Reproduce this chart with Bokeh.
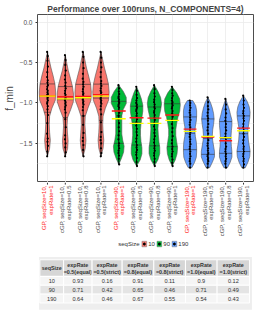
import numpy as np
from bokeh.plotting import figure
from bokeh.models import Range1d, FixedTicker, CustomJSTickFormatter
from bokeh.layouts import column
from bokeh.embed import file_html
from bokeh.resources import INLINE
from bokeh.core.properties import value

# ---------------- data ----------------
method = ["GP", "cGP", "cGP", "cGP", "GP", "cGP", "cGP", "cGP", "GP", "cGP", "cGP", "cGP"]
seq_size = [10, 10, 10, 10, 90, 90, 90, 90, 190, 190, 190, 190]
exp_rate = ["1", "0.5", "0.8", "1", "1", "0.5", "0.8", "1", "1", "0.5", "0.8", "1"]

pts_1 = [-0.37, -0.42, -0.48, -0.55, -0.62, -0.68, -0.72, -0.75, -0.78, -0.80, -0.83, -0.85, -0.87, -0.89, -0.90,
         -0.92, -0.93, -0.95, -0.97, -0.99, -1.01, -1.04, -1.08, -1.15, -1.25, -1.38, -1.44, -1.48, -1.53, -1.60, -1.66]
pts_2 = [-0.41, -0.47, -0.53, -0.60, -0.66, -0.71, -0.75, -0.79, -0.82, -0.85, -0.88, -0.90, -0.92, -0.94, -0.95,
         -0.97, -0.99, -1.01, -1.03, -1.05, -1.08, -1.12, -1.20, -1.30, -1.40, -1.45, -1.50, -1.55, -1.61, -1.66]
pts_3 = [-0.37, -0.43, -0.50, -0.57, -0.64, -0.70, -0.74, -0.77, -0.80, -0.83, -0.86, -0.88, -0.90, -0.92, -0.94,
         -0.96, -0.98, -1.00, -1.02, -1.05, -1.09, -1.16, -1.27, -1.37, -1.43, -1.47, -1.52, -1.58, -1.66]
pts_4 = [-0.37, -0.44, -0.50, -0.56, -0.62, -0.68, -0.73, -0.76, -0.79, -0.82, -0.85, -0.87, -0.89, -0.91, -0.93,
         -0.95, -0.97, -0.99, -1.01, -1.04, -1.08, -1.14, -1.24, -1.36, -1.42, -1.46, -1.50, -1.56, -1.62, -1.66]
pts_5 = [-0.78, -0.82, -0.86, -0.89, -0.92, -0.94, -0.96, -0.98, -1.00, -1.02, -1.04, -1.06, -1.09, -1.12, -1.16,
         -1.20, -1.25, -1.30, -1.35, -1.40, -1.45, -1.50, -1.53, -1.56, -1.59, -1.62, -1.65, -1.69, -1.76]
pts_6 = [-0.80, -0.85, -0.90, -0.94, -0.97, -1.00, -1.02, -1.04, -1.06, -1.08, -1.10, -1.13, -1.16, -1.20, -1.24,
         -1.28, -1.32, -1.36, -1.40, -1.44, -1.48, -1.52, -1.55, -1.58, -1.61, -1.64, -1.68, -1.73, -1.78]
pts_7 = [-0.78, -0.83, -0.88, -0.92, -0.96, -0.99, -1.02, -1.05, -1.07, -1.10, -1.12, -1.15, -1.18, -1.21, -1.25,
         -1.29, -1.33, -1.37, -1.41, -1.45, -1.49, -1.53, -1.56, -1.59, -1.62, -1.65, -1.69, -1.73, -1.78]
pts_8 = [-0.80, -0.84, -0.88, -0.91, -0.94, -0.97, -0.99, -1.01, -1.03, -1.05, -1.07, -1.10, -1.13, -1.17, -1.21,
         -1.26, -1.31, -1.36, -1.41, -1.46, -1.50, -1.54, -1.57, -1.60, -1.63, -1.66, -1.70, -1.74, -1.78]
pts_9 = [-0.97, -1.00, -1.03, -1.06, -1.09, -1.12, -1.15, -1.18, -1.21, -1.24, -1.27, -1.30, -1.33, -1.36, -1.39,
         -1.42, -1.45, -1.48, -1.51, -1.54, -1.57, -1.60, -1.63, -1.66, -1.69, -1.72, -1.75, -1.80]
pts_10 = [-0.93, -0.99, -1.04, -1.08, -1.12, -1.16, -1.19, -1.22, -1.26, -1.30, -1.34, -1.38, -1.42, -1.46, -1.50,
          -1.53, -1.56, -1.59, -1.62, -1.64, -1.66, -1.68, -1.70, -1.72, -1.75, -1.80]
pts_11 = [-0.95, -1.02, -1.08, -1.13, -1.18, -1.22, -1.26, -1.30, -1.34, -1.38, -1.42, -1.46, -1.50, -1.54, -1.57,
          -1.60, -1.63, -1.66, -1.69, -1.72, -1.75, -1.80]
pts_12 = [-0.91, -0.97, -1.02, -1.06, -1.10, -1.13, -1.16, -1.19, -1.22, -1.26, -1.30, -1.34, -1.38, -1.42, -1.46,
          -1.50, -1.54, -1.57, -1.60, -1.63, -1.66, -1.69, -1.72, -1.76, -1.80]
points = [pts_1, pts_2, pts_3, pts_4, pts_5, pts_6, pts_7, pts_8, pts_9, pts_10, pts_11, pts_12]

# violin density profiles (half-width, top -> bottom, evenly spaced)
dens_1 = [0, .10, .20, .32, .42, .46, .44, .25, .12, .10, .12, .16, .12, 0]
dens_2 = [0, .08, .17, .29, .40, .46, .45, .30, .13, .10, .12, .16, .13, 0]
dens_3 = [0, .10, .19, .31, .42, .46, .44, .27, .12, .10, .13, .16, .12, 0]
dens_4 = [0, .10, .20, .32, .42, .46, .43, .25, .12, .10, .12, .16, .12, 0]
dens_5 = [0, .25, .42, .42, .25, .17, .17, .17, .17, .22, .30, .27, .15, 0]
dens_6 = [0, .15, .27, .35, .35, .30, .25, .22, .22, .25, .30, .30, .20, 0]
dens_7 = [0, .20, .35, .40, .35, .27, .22, .20, .22, .25, .30, .30, .20, 0]
dens_8 = [0, .25, .42, .45, .42, .32, .25, .20, .20, .25, .30, .27, .17, 0]
dens_9 = [.15, .32, .37, .37, .35, .30, .27, .30, .35, .37, .37, .35, .25, .10]
dens_10 = [0, .15, .25, .32, .35, .32, .27, .25, .27, .32, .37, .37, .25, .10]
dens_11 = [0, .10, .20, .27, .35, .35, .32, .30, .30, .32, .35, .35, .25, .10]
dens_12 = [0, .20, .32, .37, .35, .30, .25, .25, .27, .32, .37, .35, .25, .10]
density = [dens_1, dens_2, dens_3, dens_4, dens_5, dens_6, dens_7, dens_8, dens_9, dens_10, dens_11, dens_12]

mean_line = [-0.912, -0.923, -0.92, -0.897, -1.099, -1.183, -1.188, -1.148, -1.323, -1.421, -1.467, -1.311]
median_line = [-0.916, -0.95, -0.935, -0.916, -1.195, -1.253, -1.253, -1.215, -1.351, -1.413, -1.428, -1.343]

y_ticks = [0.0, -0.5, -1.0, -1.5]
y_minor = [-0.25, -0.75, -1.25, -1.75]

legend_levels = [10, 90, 190]

table_cols = ["seqSize", "expRate\n=0.5(equal)", "expRate\n=0.5(strict)", "expRate\n=0.8(equal)",
              "expRate\n=0.8(strict)", "expRate\n=1.0(equal)", "expRate\n=1.0(strict)"]
tbl_seq = [10, 90, 190]
tbl_eq_05 = [0.93, 0.71, 0.64]
tbl_st_05 = [0.16, 0.42, 0.46]
tbl_eq_08 = [0.91, 0.65, 0.67]
tbl_st_08 = [0.11, 0.46, 0.55]
tbl_eq_10 = [0.9, 0.71, 0.54]
tbl_st_10 = [0.12, 0.49, 0.43]

# ---------------- styles ----------------
FONT = value("Liberation Sans")
fill_for = {10: "#F8766D", 90: "#00BA38", 190: "#619CFF"}
line_half = {10: 0.45, 90: 0.39, 190: 0.36}
W = 257
LEFT, RIGHT = 25, 4

# ---------------- main panel ----------------
p = figure(width=W, height=182, output_backend="svg", toolbar_location=None,
           x_range=Range1d(0.44, 12.56), y_range=Range1d(-1.983, 0.093),
           min_border_left=LEFT, min_border_right=RIGHT, min_border_top=0, min_border_bottom=0)
p.title.text = "Performance over 100runs, N_COMPONENTS=4)"
p.title.align = "center"
p.title.text_font = "Liberation Sans"
p.title.text_font_size = "8.5px"
p.title.text_font_style = "bold"
p.title.standoff = 2
p.title.offset = 0
p.outline_line_color = "#4d4d4d"
p.outline_line_width = 1

p.yaxis.ticker = FixedTicker(ticks=y_ticks, minor_ticks=y_minor)
p.yaxis.formatter = CustomJSTickFormatter(code="return tick.toFixed(1).replace('-', '\u2212');")
p.yaxis.axis_label = "f_min"
p.yaxis.axis_label_text_font = "Liberation Sans"
p.yaxis.axis_label_text_font_size = "10px"
p.yaxis.axis_label_text_font_style = "normal"
p.yaxis.axis_label_standoff = 2
p.yaxis.major_label_text_font = "Liberation Sans"
p.yaxis.major_label_text_font_size = "6.5px"
p.yaxis.major_label_text_color = "#4d4d4d"
p.yaxis.major_label_standoff = 1
p.yaxis.major_tick_out = 2
p.yaxis.major_tick_in = 0
p.yaxis.minor_tick_line_color = None
p.yaxis.axis_line_color = None
p.yaxis.major_tick_line_color = "#333333"

p.xaxis.visible = False
p.xgrid.ticker = FixedTicker(ticks=list(range(1, 13)))
p.grid.grid_line_color = "#ebebeb"
p.ygrid.minor_grid_line_color = "#f3f3f3"
p.grid.grid_line_width = 0.8

for i in range(12):
    xc = i + 1
    pts = np.array(points[i])
    hw = np.array(density[i])
    ys = np.linspace(pts.max(), pts.min(), len(hw))
    xs = np.concatenate([xc - hw, (xc + hw)[::-1]])
    yy = np.concatenate([ys, ys[::-1]])
    p.patch(xs, yy, fill_color=fill_for[seq_size[i]], fill_alpha=1.0,
            line_color="#555555", line_width=0.6)
    q = np.quantile(pts, [0.25, 0.5, 0.75])
    hq = np.interp(q, ys[::-1], hw[::-1])
    p.segment(xc - hq, q, xc + hq, q, line_color="#333333", line_width=0.6)
    p.segment([xc], [pts.max()], [xc], [pts.min()], line_color="black", line_width=1)
    jit = np.resize([-0.02, 0.015, 0.0, 0.025, -0.01], len(pts))
    p.scatter(xc + jit, pts, size=2.2, color="black", line_color=None)
    lh = line_half[seq_size[i]]
    p.segment([xc - lh], [mean_line[i]], [xc + lh], [mean_line[i]], line_color="#ff1a1a", line_width=1.4)
    p.segment([xc - lh], [median_line[i]], [xc + lh], [median_line[i]], line_color="#ffff00", line_width=1.4)

# ---------------- x tick marks + labels (shares x range) ----------------
xl = figure(width=W, height=56, output_backend="svg", toolbar_location=None,
            x_range=p.x_range, y_range=Range1d(59, 0),
            min_border_left=LEFT, min_border_right=RIGHT, min_border_top=0, min_border_bottom=0)
xl.axis.visible = False
xl.grid.visible = False
xl.outline_line_color = None
cats = list(range(1, 13))
xl.segment(cats, [0] * 12, cats, [2.2] * 12, line_color="#333333", line_width=1)
l1 = [f"{method[i]}, seqSize={seq_size[i]}," for i in range(12)]
l2 = [f"expRate={exp_rate[i]}" for i in range(12)]
cols_lbl = ["#ff2020" if m == "GP" else "#4d4d4d" for m in method]
xl.text(cats, [3.2] * 12, text=l1, angle=np.pi / 2, x_offset=-3.2, text_align="right", text_baseline="middle",
        text_font=FONT, text_font_size="6px", text_color=cols_lbl)
xl.text(cats, [3.2] * 12, text=l2, angle=np.pi / 2, x_offset=3.2, text_align="right", text_baseline="middle",
        text_font=FONT, text_font_size="6px", text_color=cols_lbl)

# ---------------- legend + table ----------------
t = figure(width=W, height=73, output_backend="svg", toolbar_location=None,
           x_range=Range1d(0, 273), y_range=Range1d(327, 248),
           min_border_left=0, min_border_right=0, min_border_top=0, min_border_bottom=0)
t.axis.visible = False
t.grid.visible = False
t.outline_line_color = None

t.text([129], [254], text=["seqSize"], text_align="right", text_baseline="middle",
       text_font=FONT, text_font_size="6px", text_color="#333333")
leg_x = [132, 151, 170]
for lx, lvl in zip(leg_x, legend_levels):
    t.quad(left=lx, right=lx + 6, top=251, bottom=257, fill_color=fill_for[lvl], line_color="#7f7f7f", line_width=0.5)
    t.scatter([lx + 3], [254], size=2, color="black")
    t.text([lx + 8], [254], text=[str(lvl)], text_align="left", text_baseline="middle",
           text_font=FONT, text_font_size="6px", text_color="#333333")

bounds = [3, 33, 69, 107, 147, 187, 227, 268]
row_h = 9.6
hdr_top, hdr_bot = 271, 289
t.quad(left=2, right=271, top=268, bottom=325, fill_color="#eeeeee", line_color=None)
cols = [tbl_seq, tbl_eq_05, tbl_st_05, tbl_eq_08, tbl_st_08, tbl_eq_10, tbl_st_10]
for j in range(7):
    l, r = bounds[j], bounds[j + 1]
    t.quad(left=l, right=r, top=hdr_top, bottom=hdr_bot, fill_color="#d6d6d6", line_color="white", line_width=1)
    cx = (l + r) / 2
    parts = table_cols[j].split("\n")
    if len(parts) == 1:
        t.text([cx], [(hdr_top + hdr_bot) / 2], text=parts, text_align="center", text_baseline="middle",
               text_font=FONT, text_font_size="5.4px", text_font_style="bold", text_color="#333333")
    else:
        t.text([cx, cx], [276.5, 284], text=parts, text_align="center", text_baseline="middle",
               text_font=FONT, text_font_size="5.4px", text_font_style="bold", text_color="#333333")
    for k in range(3):
        top = hdr_bot + k * row_h
        t.quad(left=l, right=r, top=top, bottom=top + row_h,
               fill_color="#f5f5f5" if k % 2 == 0 else "#e4e4e4", line_color="white", line_width=1)
        t.text([cx], [top + row_h / 2], text=[f"{cols[j][k]:g}"], text_align="center", text_baseline="middle",
               text_font=FONT, text_font_size="5.6px", text_color="#333333")

page = column(p, xl, t, spacing=0)
open("out.html", "w").write(file_html(page, INLINE))
